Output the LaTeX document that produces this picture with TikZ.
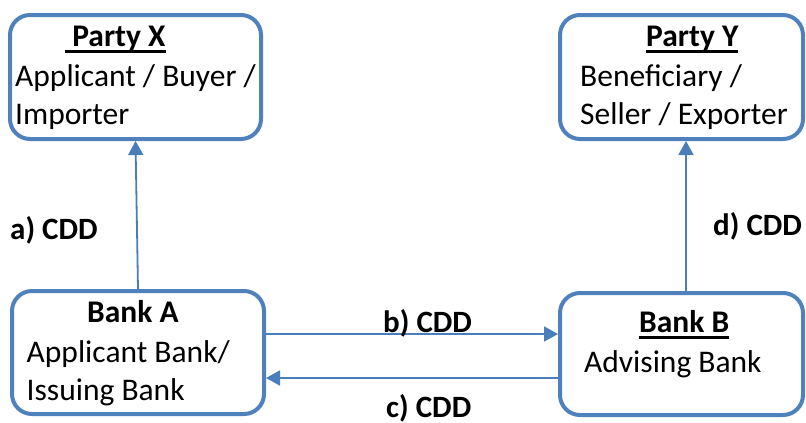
\documentclass[tikz,border=0pt]{standalone}
\usepackage{fontspec}
\setmainfont{Carlito}
\usetikzlibrary{arrows.meta, positioning}

\definecolor{boxblue}{RGB}{79,129,189}
\definecolor{lineblue}{RGB}{74,126,187}

% underlined title, rule crossing the descenders
\newcommand{\titleline}[1]{\setbox0\hbox{#1}\rlap{\rule[-6.5pt]{\wd0}{2.2pt}}\box0}

\begin{document}
\begin{tikzpicture}[
    x=1pt, y=-1pt,
    party/.style={draw=boxblue, line width=4pt, rounded corners=20pt, minimum width=#1, minimum height=124pt, inner sep=0pt},
    txt/.style={anchor=base west, inner sep=0pt, font=\fontsize{31.5}{38}\selectfont, align=left},
    ttl/.style={txt, font=\fontsize{31.5}{38}\selectfont\bfseries},
    cdd/.style={-{Triangle[width=15pt,length=14pt]}, draw=lineblue, fill=lineblue, line width=1.8pt},
    lbl/.style={anchor=base west, inner sep=0pt, font=\fontsize{31}{38}\selectfont\bfseries}
]
\useasboundingbox (0,0) rectangle (806,423);

\node[party=251pt] (partyX) at (135.5,77) {};
\node[party=243pt] (partyY) at (681.5,77) {};
\node[party=252pt, minimum height=123pt] (bankA) at (138,352.5) {};
\node[party=243pt, minimum height=122pt] (bankB) at (681.5,354) {};

% texts in the boxes (base = last line)
\node[ttl] (partyXtitle) at (65,46) {\titleline{\ Party X}};
\node[txt] (partyXtext) at (15,124) {Applicant / Buyer /\\Importer};
\node[ttl] (partyYtitle) at (646,46) {\titleline{Party Y}};
\node[txt] (partyYtext) at (580,124.5) {Beneficiary /\\Seller / Exporter};
\node[ttl] (bankAtitle) at (87,322) {Bank A};
\node[txt] (bankAtext) at (26.5,400) {Applicant Bank/\\Issuing Bank};
\node[ttl] (bankBtitle) at (639,332) {\titleline{Bank B}};
\node[txt] (bankBtext) at (584,372) {Advising Bank};

% connectors
\draw[cdd] (bankA.north) -- (partyX.south);
\draw[cdd] ([yshift=18.5pt]bankA.east) -- ([yshift=18.5pt]bankA.east -| bankB.west);
\draw[cdd] ([yshift=-25.5pt]bankA.east -| bankB.west) -- ([yshift=-25.5pt]bankA.east);
\draw[cdd] ([xshift=4.5pt]bankB.north) -- ([xshift=4.5pt]partyY.south);

\node[lbl] (cddA) at (10,239) {a) CDD};
\node[lbl] (cddB) at (383,332) {b) CDD};
\node[lbl] (cddC) at (386,417) {c) CDD};
\node[lbl] (cddD) at (713,235) {d) CDD};

\end{tikzpicture}
\end{document}
